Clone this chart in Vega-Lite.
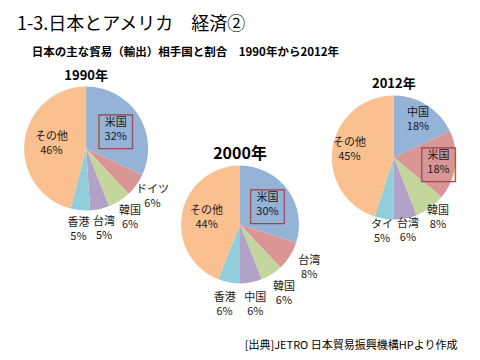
{
  "$schema": "https://vega.github.io/schema/vega-lite/v6.json",
  "width": 480,
  "height": 360,
  "autosize": {"type": "fit", "contains": "padding"},
  "padding": {"top": 15, "left": 0, "right": 0, "bottom": 10},
  "background": "#ffffff",
  "config": {"view": {"stroke": null}, "text": {"font": "Noto Sans CJK JP"}},
  "title": {
    "text": "1-3.日本とアメリカ　経済②",
    "subtitle": "\u2800\u2002日本の主な貿易（輸出）相手国と割合　1990年から2012年",
    "anchor": "start",
    "frame": "group",
    "dx": 17,
    "offset": 4,
    "font": "Noto Sans CJK JP",
    "fontSize": 18,
    "fontWeight": "normal",
    "color": "#000000",
    "subtitleFont": "Noto Sans CJK JP",
    "subtitleFontSize": 11.5,
    "subtitleFontWeight": "bold",
    "subtitleColor": "#000000",
    "subtitlePadding": 13
  },
  "data": {
    "values": [
      {"year": "1990年", "country": "米国", "share": 0.32, "rank": 1},
      {"year": "1990年", "country": "ドイツ", "share": 0.06, "rank": 2},
      {"year": "1990年", "country": "韓国", "share": 0.06, "rank": 3},
      {"year": "1990年", "country": "台湾", "share": 0.05, "rank": 4},
      {"year": "1990年", "country": "香港", "share": 0.05, "rank": 5},
      {"year": "1990年", "country": "その他", "share": 0.46, "rank": 6},
      {"year": "2000年", "country": "米国", "share": 0.30, "rank": 1},
      {"year": "2000年", "country": "台湾", "share": 0.08, "rank": 2},
      {"year": "2000年", "country": "韓国", "share": 0.06, "rank": 3},
      {"year": "2000年", "country": "中国", "share": 0.06, "rank": 4},
      {"year": "2000年", "country": "香港", "share": 0.06, "rank": 5},
      {"year": "2000年", "country": "その他", "share": 0.44, "rank": 6},
      {"year": "2012年", "country": "中国", "share": 0.18, "rank": 1},
      {"year": "2012年", "country": "米国", "share": 0.18, "rank": 2},
      {"year": "2012年", "country": "韓国", "share": 0.08, "rank": 3},
      {"year": "2012年", "country": "台湾", "share": 0.06, "rank": 4},
      {"year": "2012年", "country": "タイ", "share": 0.05, "rank": 5},
      {"year": "2012年", "country": "その他", "share": 0.45, "rank": 6}
    ]
  },
  "encoding": {
    "x": {
      "field": "year",
      "type": "nominal",
      "scale": {"type": "point", "domain": ["1990年", "2000年", "2012年"], "padding": 0.56},
      "axis": {
        "labels": false, "ticks": false, "domain": false, "grid": false,
        "title": "[出典]JETRO 日本貿易振興機構HPより作成",
        "titleX": 457, "titleAlign": "right", "titleAnchor": "end",
        "titleFont": "Noto Sans CJK JP", "titleFontSize": 11, "titleFontWeight": "normal",
        "titleColor": "#000000", "titlePadding": 4
      }
    }
  },
  "layer": [
    {
      "transform": [{"filter": {"field": "year", "equal": "1990年"}}],
      "layer": [
        {"mark": {"type": "arc", "outerRadius": 62, "yOffset": -50},
         "encoding": {"theta": {"field": "share", "type": "quantitative", "stack": true, "scale": {"domain": [0, 1]}}, "order": {"field": "rank"},
           "color": {"field": "rank", "type": "ordinal", "legend": null, "scale": {"range": ["#95B3D7", "#D99694", "#C3D69B", "#B3A2C7", "#92CDDC", "#FAC090"]}}}},
        {"mark": {"type": "text", "radius": 35, "yOffset": -50, "dy": -7, "fontSize": 11, "color": "#1a1a1a"},
         "encoding": {"theta": {"field": "share", "type": "quantitative", "stack": true}, "order": {"field": "rank"},
           "text": {"condition": {"test": "datum.share >= 0.1", "field": "country", "type": "nominal"}, "value": ""}}},
        {"mark": {"type": "text", "radius": 35, "yOffset": -50, "dy": 7, "fontSize": 11, "color": "#1a1a1a"},
         "encoding": {"theta": {"field": "share", "type": "quantitative", "stack": true}, "order": {"field": "rank"},
           "text": {"condition": {"test": "datum.share >= 0.1", "field": "share", "type": "quantitative", "format": ".0%"}, "value": ""}}},
        {"mark": {"type": "text", "radius": 82, "yOffset": -50, "dy": -7, "fontSize": 11, "color": "#1a1a1a"},
         "encoding": {"theta": {"field": "share", "type": "quantitative", "stack": true}, "order": {"field": "rank"},
           "text": {"condition": {"test": "datum.share < 0.1", "field": "country", "type": "nominal"}, "value": ""}}},
        {"mark": {"type": "text", "radius": 82, "yOffset": -50, "dy": 7, "fontSize": 11, "color": "#1a1a1a"},
         "encoding": {"theta": {"field": "share", "type": "quantitative", "stack": true}, "order": {"field": "rank"},
           "text": {"condition": {"test": "datum.share < 0.1", "field": "share", "type": "quantitative", "format": ".0%"}, "value": ""}}},
        {"mark": {"type": "text", "radius": 35, "yOffset": -50, "font": "DejaVu Sans", "fontSize": 44, "fillOpacity": 0, "stroke": "#A0464E", "strokeWidth": 1.2},
         "encoding": {"theta": {"field": "share", "type": "quantitative", "stack": true}, "order": {"field": "rank"},
           "text": {"condition": {"test": "datum.country === '米国'", "value": "■"}, "value": ""}}},
        {"transform": [{"filter": "datum.rank === 1"}],
         "mark": {"type": "text", "yOffset": -50, "dy": -73, "fontSize": 13, "fontWeight": "bold", "color": "#000000"},
         "encoding": {"text": {"field": "year"}}}
      ]
    },
    {
      "transform": [{"filter": {"field": "year", "equal": "2000年"}}],
      "layer": [
        {"mark": {"type": "arc", "outerRadius": 59, "yOffset": 26},
         "encoding": {"theta": {"field": "share", "type": "quantitative", "stack": true}, "order": {"field": "rank"},
           "color": {"field": "rank", "type": "ordinal", "legend": null}}},
        {"mark": {"type": "text", "radius": 34, "yOffset": 26, "dy": -7, "fontSize": 11, "color": "#1a1a1a"},
         "encoding": {"theta": {"field": "share", "type": "quantitative", "stack": true}, "order": {"field": "rank"},
           "text": {"condition": {"test": "datum.share >= 0.1", "field": "country", "type": "nominal"}, "value": ""}}},
        {"mark": {"type": "text", "radius": 34, "yOffset": 26, "dy": 7, "fontSize": 11, "color": "#1a1a1a"},
         "encoding": {"theta": {"field": "share", "type": "quantitative", "stack": true}, "order": {"field": "rank"},
           "text": {"condition": {"test": "datum.share >= 0.1", "field": "share", "type": "quantitative", "format": ".0%"}, "value": ""}}},
        {"mark": {"type": "text", "radius": 82, "yOffset": 26, "dy": -7, "fontSize": 11, "color": "#1a1a1a"},
         "encoding": {"theta": {"field": "share", "type": "quantitative", "stack": true}, "order": {"field": "rank"},
           "text": {"condition": {"test": "datum.share < 0.1", "field": "country", "type": "nominal"}, "value": ""}}},
        {"mark": {"type": "text", "radius": 82, "yOffset": 26, "dy": 7, "fontSize": 11, "color": "#1a1a1a"},
         "encoding": {"theta": {"field": "share", "type": "quantitative", "stack": true}, "order": {"field": "rank"},
           "text": {"condition": {"test": "datum.share < 0.1", "field": "share", "type": "quantitative", "format": ".0%"}, "value": ""}}},
        {"mark": {"type": "text", "radius": 34, "yOffset": 26, "font": "DejaVu Sans", "fontSize": 44, "fillOpacity": 0, "stroke": "#A0464E", "strokeWidth": 1.2},
         "encoding": {"theta": {"field": "share", "type": "quantitative", "stack": true}, "order": {"field": "rank"},
           "text": {"condition": {"test": "datum.country === '米国'", "value": "■"}, "value": ""}}},
        {"transform": [{"filter": "datum.rank === 1"}],
         "mark": {"type": "text", "yOffset": 26, "dy": -71, "fontSize": 16, "fontWeight": "bold", "color": "#000000"},
         "encoding": {"text": {"field": "year"}}}
      ]
    },
    {
      "transform": [{"filter": {"field": "year", "equal": "2012年"}}],
      "layer": [
        {"mark": {"type": "arc", "outerRadius": 62, "yOffset": -41},
         "encoding": {"theta": {"field": "share", "type": "quantitative", "stack": true}, "order": {"field": "rank"},
           "color": {"field": "rank", "type": "ordinal", "legend": null}}},
        {"mark": {"type": "text", "radius": 45, "yOffset": -41, "dy": -7, "fontSize": 11, "color": "#1a1a1a"},
         "encoding": {"theta": {"field": "share", "type": "quantitative", "stack": true}, "order": {"field": "rank"},
           "text": {"condition": {"test": "datum.share >= 0.1", "field": "country", "type": "nominal"}, "value": ""}}},
        {"mark": {"type": "text", "radius": 45, "yOffset": -41, "dy": 7, "fontSize": 11, "color": "#1a1a1a"},
         "encoding": {"theta": {"field": "share", "type": "quantitative", "stack": true}, "order": {"field": "rank"},
           "text": {"condition": {"test": "datum.share >= 0.1", "field": "share", "type": "quantitative", "format": ".0%"}, "value": ""}}},
        {"mark": {"type": "text", "radius": 75, "yOffset": -41, "dy": -7, "fontSize": 11, "color": "#1a1a1a"},
         "encoding": {"theta": {"field": "share", "type": "quantitative", "stack": true}, "order": {"field": "rank"},
           "text": {"condition": {"test": "datum.share < 0.1", "field": "country", "type": "nominal"}, "value": ""}}},
        {"mark": {"type": "text", "radius": 75, "yOffset": -41, "dy": 7, "fontSize": 11, "color": "#1a1a1a"},
         "encoding": {"theta": {"field": "share", "type": "quantitative", "stack": true}, "order": {"field": "rank"},
           "text": {"condition": {"test": "datum.share < 0.1", "field": "share", "type": "quantitative", "format": ".0%"}, "value": ""}}},
        {"mark": {"type": "text", "radius": 45, "yOffset": -41, "font": "DejaVu Sans", "fontSize": 44, "fillOpacity": 0, "stroke": "#A0464E", "strokeWidth": 1.2},
         "encoding": {"theta": {"field": "share", "type": "quantitative", "stack": true}, "order": {"field": "rank"},
           "text": {"condition": {"test": "datum.country === '米国'", "value": "■"}, "value": ""}}},
        {"transform": [{"filter": "datum.rank === 1"}],
         "mark": {"type": "text", "yOffset": -41, "dy": -74, "fontSize": 13, "fontWeight": "bold", "color": "#000000"},
         "encoding": {"text": {"field": "year"}}}
      ]
    }
  ]
}
